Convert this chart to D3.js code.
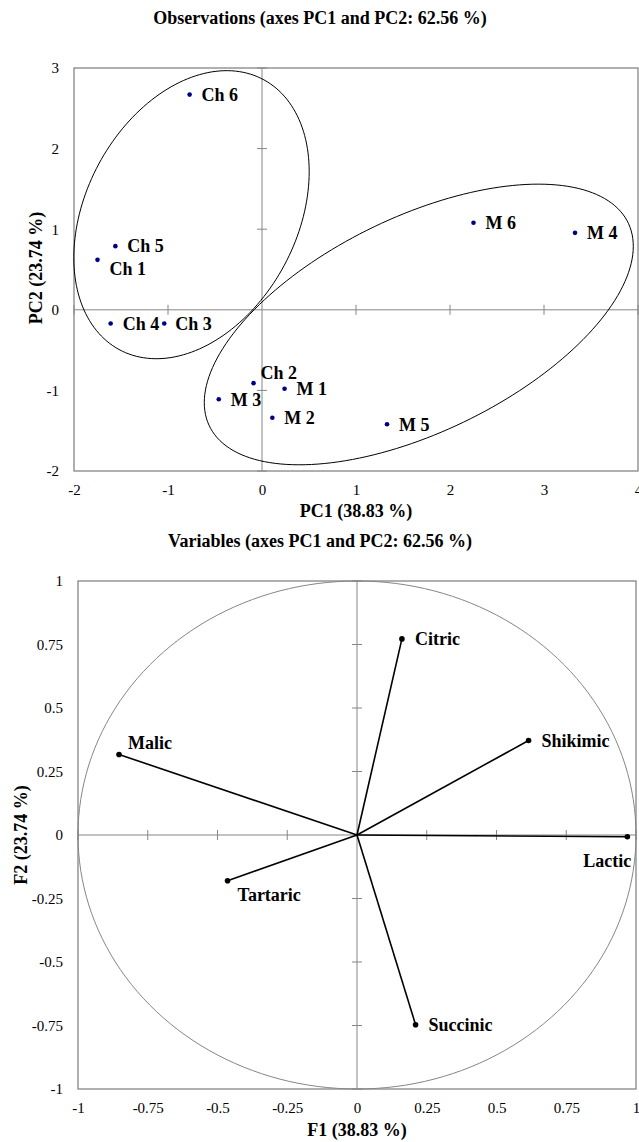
<!DOCTYPE html>
<html>
<head>
<meta charset="utf-8">
<script src="https://cdn.jsdelivr.net/npm/d3@7"></script>
<style>
html,body{margin:0;padding:0;background:#fff;}
svg{display:block;font-family:"Liberation Serif","Times New Roman",serif;}
</style>
</head>
<body>
<svg id="chart" width="639" height="1142"></svg>
<script>
// ---------- DATA ----------
const obsTitle = "Observations (axes PC1 and PC2: 62.56 %)";
const varTitle = "Variables (axes PC1 and PC2: 62.56 %)";
const obsXLabel = "PC1 (38.83 %)";
const obsYLabel = "PC2 (23.74 %)";
const varXLabel = "F1 (38.83 %)";
const varYLabel = "F2 (23.74 %)";

const obsNames = ["Ch 1","Ch 2","Ch 3","Ch 4","Ch 5","Ch 6","M 1","M 2","M 3","M 4","M 5","M 6"];
const obsPC1   = [-1.75,-0.09,-1.04,-1.61,-1.56,-0.77, 0.24, 0.11,-0.46, 3.33, 1.33, 2.25];
const obsPC2   = [ 0.62,-0.91,-0.17,-0.17, 0.79, 2.67,-0.98,-1.34,-1.11, 0.955,-1.42, 1.08];

// confidence ellipses (data units): centre, sd x, sd y, correlation
const ellCx  = [-0.75, 1.668];
const ellCy  = [ 1.18,-0.182];
const ellSx  = [ 1.252, 2.282];
const ellSy  = [ 1.787, 1.741];
const ellRho = [ 0.299, 0.557];

const varNames = ["Malic","Citric","Shikimic","Lactic","Succinic","Tartaric"];
const varF1    = [-0.853, 0.161, 0.615, 0.969, 0.210,-0.464];
const varF2    = [ 0.317, 0.772, 0.372,-0.007,-0.747,-0.180];

const obsXTicks = [-2,-1,0,1,2,3,4];
const obsYTicks = [-2,-1,0,1,2,3];
const varTicks  = [-1,-0.75,-0.5,-0.25,0,0.25,0.5,0.75,1];

// ---------- LAYOUT (label offsets in px) ----------
const obsLabelOff = {"Ch 1":[12,9],"Ch 2":[7,-10],"Ch 3":[11,0],"Ch 4":[12,0],"Ch 5":[12,0],"Ch 6":[12,0],
  "M 1":[12,0],"M 2":[12,0],"M 3":[12,0],"M 4":[12,0],"M 5":[12,0],"M 6":[12,0]};
const varLabelOff = {"Malic":[9,-12,"start"],"Citric":[13,0,"start"],"Shikimic":[13,0,"start"],
  "Lactic":[4,24,"end"],"Succinic":[13,0,"start"],"Tartaric":[10,14,"start"]};

const svg = d3.select("#chart");
const gray = "#868686";
const font = "Liberation Serif";

function frame(x, y, xTicks, yTicks, fmt) {
  const g = svg.append("g");
  const [x0,x1] = x.range(), [y0,y1] = y.range();
  // zero lines
  g.append("line").attr("x1",x0).attr("x2",x1).attr("y1",y(0)).attr("y2",y(0))
    .attr("stroke",gray).attr("stroke-width",1);
  g.append("line").attr("x1",x(0)).attr("x2",x(0)).attr("y1",y0).attr("y2",y1)
    .attr("stroke",gray).attr("stroke-width",1);
  // cross ticks on zero lines
  g.selectAll(".tx").data(xTicks.filter(v=>v!==0)).join("line")
    .attr("x1",d=>x(d)).attr("x2",d=>x(d)).attr("y1",y(0)-5).attr("y2",y(0)+5)
    .attr("stroke",gray).attr("stroke-width",1);
  g.selectAll(".ty").data(yTicks.filter(v=>v!==0)).join("line")
    .attr("x1",x(0)-5).attr("x2",x(0)+5).attr("y1",d=>y(d)).attr("y2",d=>y(d))
    .attr("stroke",gray).attr("stroke-width",1);
  // box
  g.append("rect").attr("x",x0).attr("y",y1).attr("width",x1-x0).attr("height",y0-y1)
    .attr("fill","none").attr("stroke",gray).attr("stroke-width",1.3);
  // tick labels via d3 axes
  const ax = d3.axisBottom(x).tickValues(xTicks).tickSize(0).tickPadding(0).tickFormat(fmt);
  const ay = d3.axisLeft(y).tickValues(yTicks).tickSize(0).tickPadding(0).tickFormat(fmt);
  const gx = svg.append("g").attr("transform",`translate(0,${y0+13})`).call(ax);
  const gy = svg.append("g").attr("transform",`translate(${x0-15},0)`).call(ay);
  [gx,gy].forEach(s=>{
    s.select(".domain").remove();
    s.selectAll("text").attr("font-family",font).attr("font-size",15).attr("fill","#000");
  });
}

// ---------- OBSERVATIONS ----------
const xo = d3.scaleLinear().domain([-2,4]).range([74,638]);
const yo = d3.scaleLinear().domain([-2,3]).range([471,68]);
frame(xo, yo, obsXTicks, obsYTicks, d=>String(d));

svg.append("text").attr("x",320).attr("y",24).attr("text-anchor","middle")
  .attr("font-family",font).attr("font-weight","bold").attr("font-size",18).text(obsTitle);
svg.append("text").attr("x",356).attr("y",517).attr("text-anchor","middle")
  .attr("font-family",font).attr("font-weight","bold").attr("font-size",18).text(obsXLabel);
svg.append("text").attr("transform","translate(42,268) rotate(-90)").attr("text-anchor","middle")
  .attr("font-family",font).attr("font-weight","bold").attr("font-size",18).text(obsYLabel);

// ellipses
const angles = d3.range(0, 361, 2).map(a=>a*Math.PI/180);
const ellLine = d3.line().x(d=>xo(d[0])).y(d=>yo(d[1])).curve(d3.curveLinearClosed);
ellCx.forEach((cx,i)=>{
  const pts = angles.map(t=>[
    cx + ellSx[i]*Math.cos(t),
    ellCy[i] + ellSy[i]*(ellRho[i]*Math.cos(t) + Math.sqrt(1-ellRho[i]*ellRho[i])*Math.sin(t))
  ]);
  svg.append("path").attr("d",ellLine(pts)).attr("fill","none").attr("stroke","#000").attr("stroke-width",1);
});

const obs = obsNames.map((n,i)=>({n, x:obsPC1[i], y:obsPC2[i]}));
svg.append("g").selectAll("circle").data(obs).join("circle")
  .attr("cx",d=>xo(d.x)).attr("cy",d=>yo(d.y)).attr("r",2.3).attr("fill","#000080");
svg.append("g").selectAll("text").data(obs).join("text")
  .attr("x",d=>xo(d.x)+obsLabelOff[d.n][0]).attr("y",d=>yo(d.y)+obsLabelOff[d.n][1])
  .attr("dy","0.35em").attr("font-family",font).attr("font-weight","bold").attr("font-size",18)
  .text(d=>d.n);

// ---------- VARIABLES ----------
const xv = d3.scaleLinear().domain([-1,1]).range([78,636]);
const yv = d3.scaleLinear().domain([-1,1]).range([1089,581]);
frame(xv, yv, varTicks, varTicks, d=>String(d));

svg.append("text").attr("x",320).attr("y",547).attr("text-anchor","middle")
  .attr("font-family",font).attr("font-weight","bold").attr("font-size",18).text(varTitle);
svg.append("text").attr("x",357).attr("y",1136).attr("text-anchor","middle")
  .attr("font-family",font).attr("font-weight","bold").attr("font-size",18).text(varXLabel);
svg.append("text").attr("transform","translate(27,835) rotate(-90)").attr("text-anchor","middle")
  .attr("font-family",font).attr("font-weight","bold").attr("font-size",18).text(varYLabel);

// correlation circle
const circ = angles.map(t=>[Math.cos(t), Math.sin(t)]);
svg.append("path").attr("d",d3.line().x(d=>xv(d[0])).y(d=>yv(d[1])).curve(d3.curveLinearClosed)(circ))
  .attr("fill","none").attr("stroke",gray).attr("stroke-width",1);

const vars = varNames.map((n,i)=>({n, x:varF1[i], y:varF2[i]}));
svg.append("g").selectAll("line").data(vars).join("line")
  .attr("x1",xv(0)).attr("y1",yv(0)).attr("x2",d=>xv(d.x)).attr("y2",d=>yv(d.y))
  .attr("stroke","#000").attr("stroke-width",1.6);
svg.append("g").selectAll("circle").data(vars).join("circle")
  .attr("cx",d=>xv(d.x)).attr("cy",d=>yv(d.y)).attr("r",2.8).attr("fill","#000");
svg.append("g").selectAll("text").data(vars).join("text")
  .attr("x",d=>xv(d.x)+varLabelOff[d.n][0]).attr("y",d=>yv(d.y)+varLabelOff[d.n][1])
  .attr("text-anchor",d=>varLabelOff[d.n][2])
  .attr("dy","0.35em").attr("font-family",font).attr("font-weight","bold").attr("font-size",18)
  .text(d=>d.n);
</script>
</body>
</html>
